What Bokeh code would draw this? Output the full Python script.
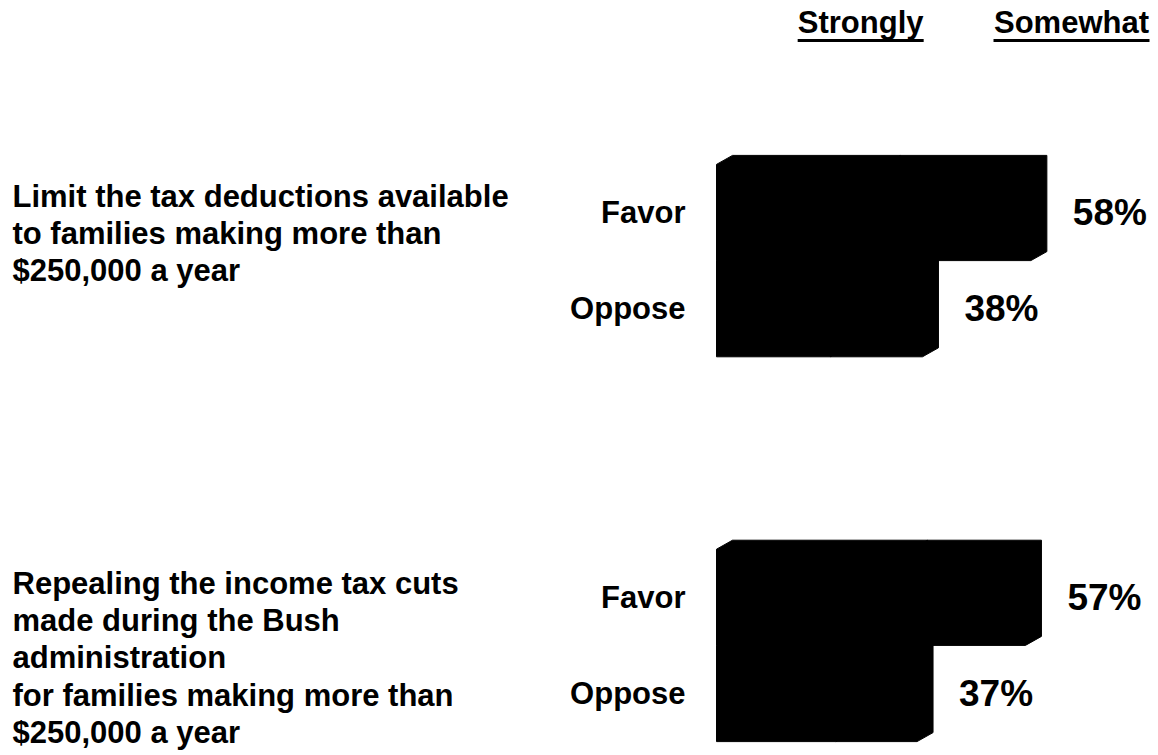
from bokeh.plotting import figure
from bokeh.models import Range1d
from bokeh.embed import file_html
from bokeh.resources import INLINE
from bokeh.core.properties import value

# ---------------- data ----------------
questions = [
    "Limit the tax deductions available\nto families making more than\n$250,000 a year",
    "Repealing the income tax cuts\nmade during the Bush\nadministration\nfor families making more than\n$250,000 a year",
]
responses = ["Favor", "Oppose"]
headers = ["Strongly", "Somewhat"]

favor_strongly = [31, 36]
favor_somewhat = [27, 21]
oppose_strongly = [21, 22]
oppose_somewhat = [17, 15]
favor_total = [58, 57]
oppose_total = [38, 37]

# ---------------- layout ----------------
W, H = 1158, 755
PX_PCT = 5.42      # pixels per percentage point
PX_SLOT = 96.2     # pixels per row slot
X0_PX = 716        # pixel position of 0%
Y0_PX = 212        # pixel position of first row centre
DX = 16 / PX_PCT   # 3D depth, x
DY = 9 / PX_SLOT   # 3D depth, y
group_base = [0, 4]
q_top_px = [-34, -31]
header_x = [26.6, 65.5]
header_half_px = [63, 78]
FONT = value("Liberation Sans")

p = figure(width=W, height=H, output_backend="svg", toolbar_location=None,
           x_range=Range1d(-X0_PX / PX_PCT, (W - X0_PX) / PX_PCT),
           y_range=Range1d((H - Y0_PX) / PX_SLOT, -Y0_PX / PX_SLOT),
           min_border=0, background_fill_color="white", border_fill_color="white")
p.axis.visible = False
p.grid.visible = False
p.outline_line_color = None

xs, ys = [], []
def bar3d(x0, x1, s):
    top, bot = s - 0.5, s + 0.5
    xs.append([x0, x0 + DX, x1 + DX, x1 + DX, x1, x0])
    ys.append([top, top - DY, top - DY, bot - DY, bot, bot])

row_y, row_lab, tot_x, tot_lab = [], [], [], []
for g in range(len(questions)):
    for r, (st, sw, tot) in enumerate([
        (favor_strongly[g], favor_somewhat[g], favor_total[g]),
        (oppose_strongly[g], oppose_somewhat[g], oppose_total[g]),
    ]):
        s = group_base[g] + r
        bar3d(0, st, s)
        bar3d(st, st + sw, s)
        row_y.append(s)
        row_lab.append(responses[r])
        tot_x.append(tot)
        tot_lab.append(f"{tot}%")

p.patches(xs, ys, fill_color="black", line_color="black", line_width=1)

# response labels
p.text(x=[0] * len(row_y), y=row_y, text=row_lab, x_offset=-31,
       text_align="right", text_baseline="middle", text_font=FONT,
       text_font_style="bold", text_font_size="31px", text_color="black")

# totals
p.text(x=tot_x, y=row_y, text=tot_lab, x_offset=42,
       text_align="left", text_baseline="middle", text_font=FONT,
       text_font_style="bold", text_font_size="37px", text_color="black")

# questions
qx = [p.x_range.start] * len(questions)
qy = [group_base[g] + q_top_px[g] / PX_SLOT for g in range(len(questions))]
p.text(x=qx, y=qy, text=questions, x_offset=12,
       text_align="left", text_baseline="top", text_font=FONT,
       text_font_style="bold", text_font_size="31px", text_color="black",
       text_line_height=1.06)

# headers with underline
hy = (22 - Y0_PX) / PX_SLOT
uy = (40 - Y0_PX) / PX_SLOT
p.text(x=header_x, y=[hy] * 2, text=headers, text_align="center",
       text_baseline="middle", text_font=FONT, text_font_style="bold",
       text_font_size="31px", text_color="black")
p.segment(x0=[header_x[i] - header_half_px[i] / PX_PCT for i in range(2)],
          x1=[header_x[i] + header_half_px[i] / PX_PCT for i in range(2)],
          y0=[uy] * 2, y1=[uy] * 2, line_color="black", line_width=3)

open("out.html", "w").write(file_html(p, INLINE))
